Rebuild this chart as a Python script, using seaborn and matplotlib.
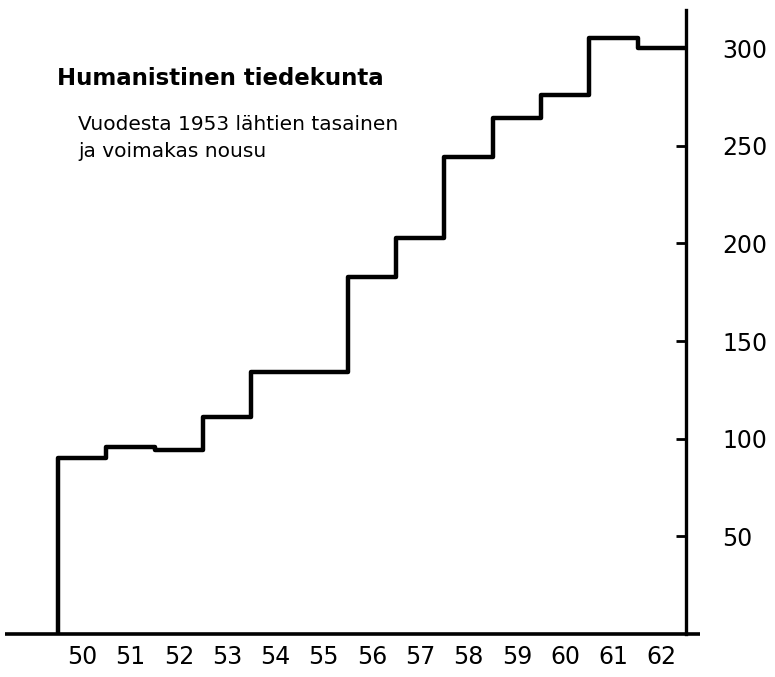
import pandas as pd
import matplotlib.pyplot as plt
import seaborn as sns

# students per year
years = [50, 51, 52, 53, 54, 55, 56, 57, 58, 59, 60, 61, 62]
students = [90, 96, 94, 111, 134, 134, 183, 203, 244, 264, 276, 305, 300]
ytick_vals = [50, 100, 150, 200, 250, 300]

title = 'Humanistinen tiedekunta'
subtitle = ['Vuodesta 1953 lähtien tasainen', 'ja voimakas nousu']

sns.set_theme(style='white')
plt.rcParams['font.family'] = ['DejaVu Sans']
plt.rcParams['text.color'] = 'black'

# step edges: start from baseline, each year is one step, last value held to the end
edges = [years[0] - 0.5] + [y - 0.5 for y in years] + [years[-1] + 0.5]
levels = [0] + students + [students[-1]]
df = pd.DataFrame({'x': edges, 'y': levels})

fig = plt.figure(figsize=(7.75, 6.77), dpi=100)
ax = fig.add_axes([5 / 775, 43 / 677, 681 / 775, 624 / 677])

sns.lineplot(data=df, x='x', y='y', ax=ax, estimator=None, sort=False,
             drawstyle='steps-post', color='black', linewidth=3.2)

ax.set_xlim(years[0] - 0.5 - 53 / 48.3, years[-1] + 0.5)
ax.set_ylim(0, 319.5)

for s in ['top', 'left']:
    ax.spines[s].set_visible(False)
ax.spines['right'].set_linewidth(2.4)
ax.spines['right'].set_color('black')
ax.spines['bottom'].set_visible(False)
# bottom line runs a little past the right axis
ax.plot([0, 1.02], [0, 0], transform=ax.transAxes, color='black',
        linewidth=2.6, clip_on=False, solid_capstyle='butt')

ax.yaxis.tick_right()
ax.set_yticks(ytick_vals)
ax.set_yticklabels([str(v) for v in ytick_vals], fontsize=17)
ax.tick_params(axis='y', direction='in', length=7, width=2, pad=26,
               colors='black', right=True, left=False)

ax.set_xticks(years)
ax.set_xticklabels([str(y) for y in years], fontsize=17)
ax.tick_params(axis='x', length=0, pad=8, colors='black')
ax.set_xlabel('')
ax.set_ylabel('')
ax.grid(False)

fig.text(57 / 775, 1 - 85 / 677, title, fontsize=16.5, fontweight='bold',
         va='baseline', ha='left', color='black')
fig.text(78 / 775, 1 - 130 / 677, subtitle[0], fontsize=14.5,
         va='baseline', ha='left', color='black')
fig.text(78 / 775, 1 - 157 / 677, subtitle[1], fontsize=14.5,
         va='baseline', ha='left', color='black')

fig.savefig('out.png', dpi=100, facecolor='white')
